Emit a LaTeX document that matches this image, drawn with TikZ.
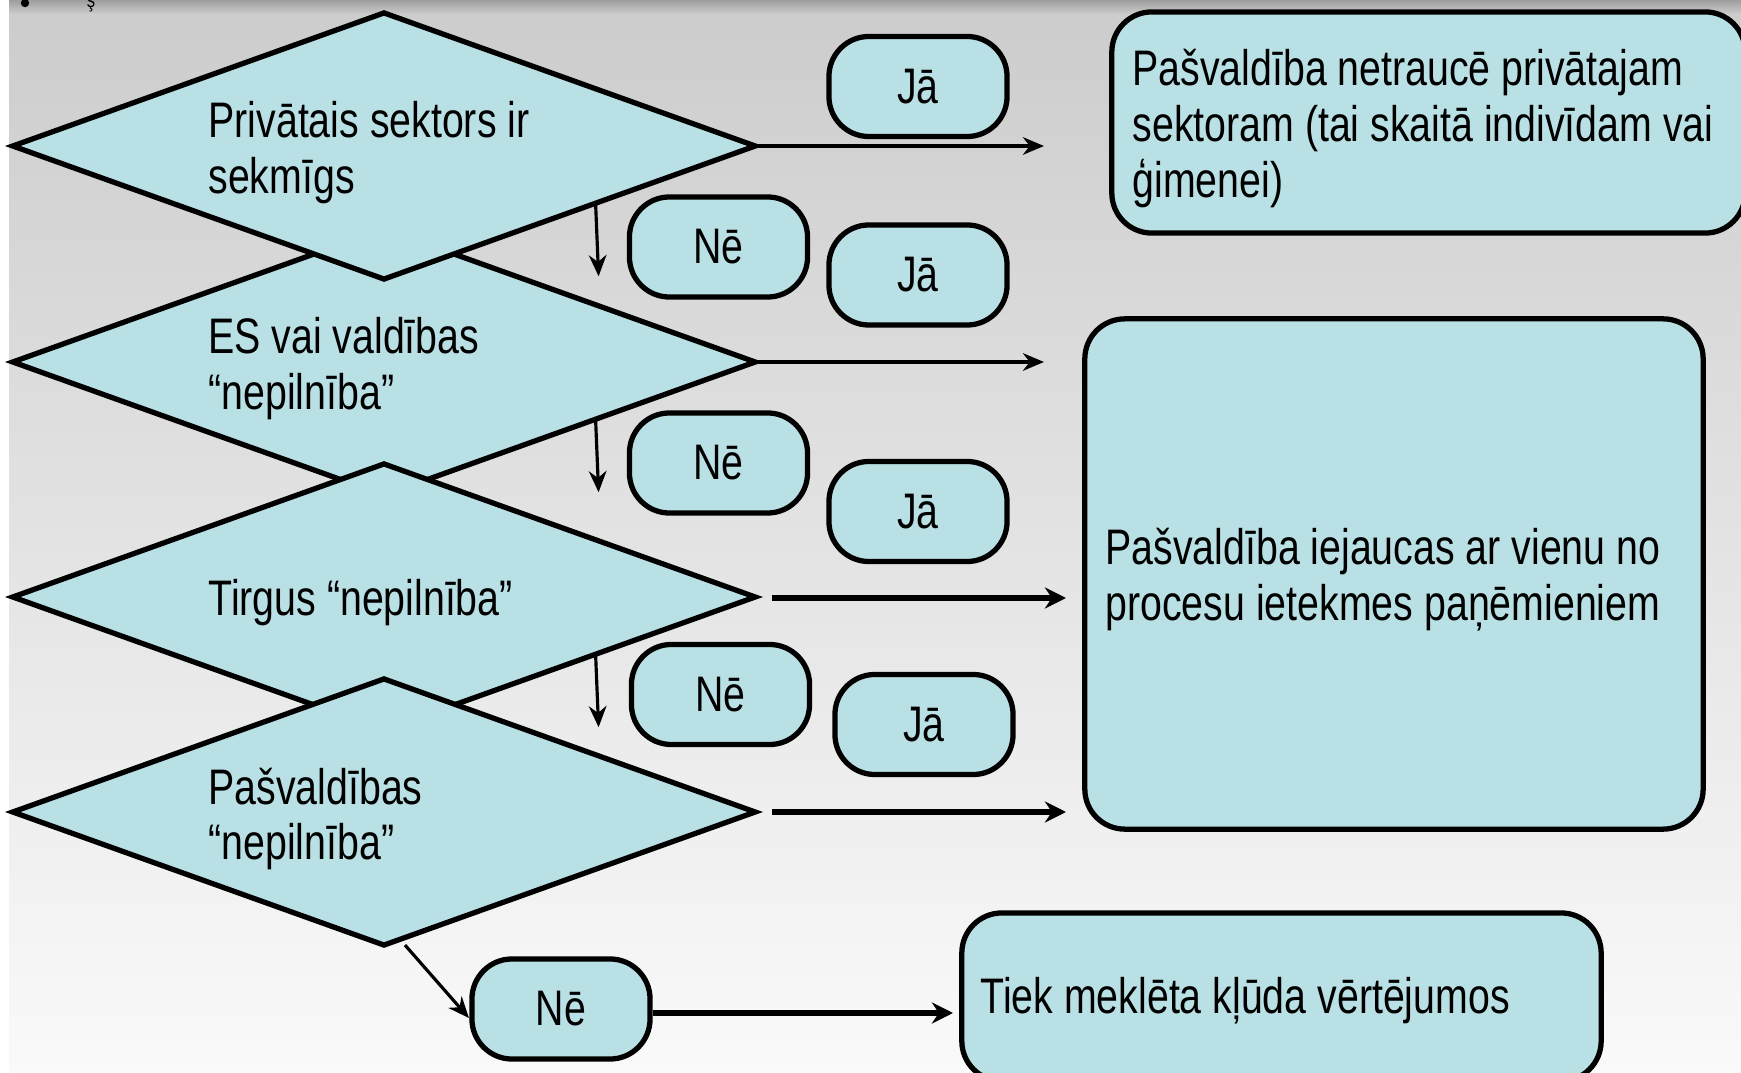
\documentclass[tikz,border=0pt]{standalone}
\usepackage{fontspec}
\setmainfont{Liberation Sans}[FakeStretch=0.787]
\usetikzlibrary{calc, shapes.geometric, arrows.meta, positioning}
\definecolor{boxblue}{RGB}{185,224,228}
\newcommand\slidefont{\fontsize{14.2}{15.9}\selectfont\fontdimen2\font=3.1pt\relax}
\begin{document}
\begin{tikzpicture}[x=0.01cm,y=-0.01cm,
	every node/.style={font=\slidefont},
	choice/.style={diamond,draw,line width=1.5pt,fill=boxblue,aspect=2.8,minimum width=7.42cm,minimum height=2.66cm,inner sep=0pt,outer sep=0pt},
	answer/.style={draw,line width=1.5pt,fill=boxblue,rounded corners=0.4cm,minimum width=1.78cm,minimum height=1cm,inner sep=0pt,outer sep=0pt},
	result/.style={draw,line width=1.5pt,fill=boxblue,rounded corners=0.4cm,inner sep=0pt,outer sep=0pt},
	say/.style={align=left,inner sep=0pt,anchor=west},
	flow/.style={-{Stealth[length=6pt,width=5pt]},line width=0.9pt},
	bold flow/.style={-{Stealth[length=6pt,width=6pt]},line width=1.6pt}]
	\useasboundingbox (0,0) rectangle (1741,1073);
	\clip (0,0) rectangle (1741,1073);
	\fill[white] (0,0) rectangle (1741,1073);
	\shade[top color=black!20,bottom color=black!2] (9,0) rectangle (1741,1073);
	\shade[top color=black!38,bottom color=black!20] (9,0) rectangle (1741,14);
	\fill (25,3) circle (1.2pt);
	\node[font=\fontsize{6}{7}\selectfont,inner sep=0pt,anchor=base] (cut) at (91,8) {ş};
	% questions
	\node[choice] (d2) at (384,362) {};
	\node[choice] (d3) at (384,597) {};
	\node[choice] (d4) at (384,812) {};
	\node[choice] (d1) at (384,146) {};
	\node[say] (q1) at ($(d1.west)+(195,7)$) {Privātais sektors ir\\sekmīgs};
	\node[say] (q2) at ($(d2.west)+(195,7)$) {ES vai valdības\\“nepilnība”};
	\node[say] (q3) at ($(d3.west)+(195,6)$) {Tirgus “nepilnība”};
	\node[say] (q4) at ($(d4.west)+(195,7)$) {Pašvaldības\\“nepilnība”};
	% answers
	\node[answer] (y1) at (918,86.5) {Jā};
	\node[answer] (y2) at (918,275) {Jā};
	\node[answer] (y3) at (918,511.5) {Jā};
	\node[answer] (y4) at (924,724.5) {Jā};
	\node[answer] (n1) at (718.5,247) {Nē};
	\node[answer] (n2) at (718.5,463) {Nē};
	\node[answer] (n3) at (720.5,694.5) {Nē};
	\node[answer] (n4) at (561,1009) {Nē};
	% outcomes
	\node[result,minimum width=6.33cm,minimum height=2.21cm] (free) at (1428.5,122.5) {};
	\node[result,minimum width=6.18cm,minimum height=5.1cm] (act) at (1394,574) {};
	\node[result,minimum width=6.39cm,minimum height=1.68cm] (err) at (1281.5,997) {};
	\node[say] (r1) at ($(free.west)+(20,6)$) {Pašvaldība netraucē privātajam\\sektoram (tai skaitā indivīdam vai\\ģimenei)};
	\node[say] (r2) at ($(act.west)+(20,6)$) {Pašvaldība iejaucas ar vienu no\\procesu ietekmes paņēmieniem};
	\node[say] (r3) at ($(err.west)+(18,4)$) {Tiek meklēta kļūda vērtējumos};
	\coordinate (e1) at (1044,146);
	\coordinate (e2) at (1044,362);
	\coordinate (e3) at (1066,598);
	\coordinate (e4) at (1066,812);
	\coordinate (e5) at (953,1013);
	\draw[flow] (d1.east) -- (e1);
	\draw[flow] (d2.east) -- (e2);
	\draw[bold flow] ($(d3.east)+(17,1)$) -- (e3);
	\draw[bold flow] ($(d4.east)+(17,0)$) -- (e4);
	\foreach \i in {1,2,3}
		\draw[flow] ($(d\i.east)!0.43!(d\i.south)$) -- ++(3,73);
	\draw[flow] ($(d4.south)+(21,0)$) -- ($(n4.west)+(-3,9)$);
	\draw[bold flow] ($(n4.east)+(3,4)$) -- (e5);
\end{tikzpicture}
\end{document}
